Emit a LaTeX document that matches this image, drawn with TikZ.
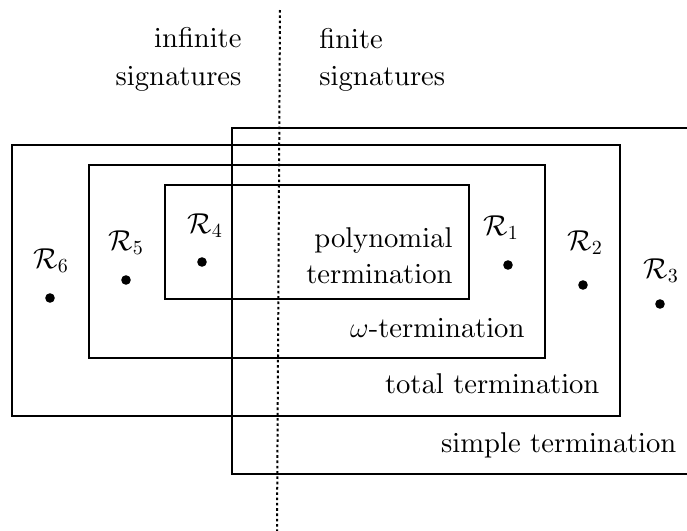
\documentclass[tikz,border=0pt]{standalone}
\font\labelrm=cmr10 at 14.3pt
\begin{document}
\begin{tikzpicture}[x=0.5pt,y=-0.5pt,
  lbl/.style={inner sep=0pt,font=\fontsize{14.3}{17}\selectfont\labelrm},
  boxline/.style={line width=1.3pt,line join=miter},
  sep/.style={line width=1pt,dash pattern=on 1.3pt off 1.35pt},
  pt/.style={fill=black}]
\useasboundingbox (0,0) rectangle (687,531);
\clip (0,0) rectangle (687,531);
% separator
\coordinate (septop) at (280,10);
\coordinate (sepbot) at (277,531);
\draw[sep] (septop) -- (sepbot);
% boxes
\draw[boxline] (710,128) -- (232,128) -- (232,474) -- (710,474);
\draw[boxline] (12,145) rectangle (620,416);
\draw[boxline] (89,165) rectangle (545,358);
\draw[boxline] (165,185) rectangle (469,299);
% headings
\node[lbl,anchor=base east] (infA) at (242,47) {infinite};
\node[lbl,anchor=base east] (infB) at (242,85) {signatures};
\node[lbl,anchor=base west] (finA) at (319,48) {finite};
\node[lbl,anchor=base west] (finB) at (319,85) {signatures};
% box labels
\node[lbl,anchor=base east] (polyA) at (453,247) {polynomial};
\node[lbl,anchor=base east] (polyB) at (453,283) {termination};
\node[lbl,anchor=base east] (omega) at (525,337) {$\omega$-termination};
\node[lbl,anchor=base east] (total) at (600,393) {total termination};
\node[lbl,anchor=base east] (simple) at (677,452) {simple termination};
% R labels
\node[lbl,anchor=base west] (R6) at (33,268) {$\mathcal{R}_6$};
\node[lbl,anchor=base west] (R5) at (108,250) {$\mathcal{R}_5$};
\node[lbl,anchor=base west] (R4) at (187,233) {$\mathcal{R}_4$};
\node[lbl,anchor=base west] (R1) at (483,235) {$\mathcal{R}_1$};
\node[lbl,anchor=base west] (R2) at (567,250) {$\mathcal{R}_2$};
\node[lbl,anchor=base west] (R3) at (643,278) {$\mathcal{R}_3$};
% dots
\fill[pt] (50,298) circle (4.8);
\fill[pt] (126,280) circle (4.8);
\fill[pt] (202,262) circle (4.8);
\fill[pt] (508,265) circle (4.8);
\fill[pt] (583,285) circle (4.8);
\fill[pt] (660,304) circle (4.8);
\end{tikzpicture}
\end{document}
